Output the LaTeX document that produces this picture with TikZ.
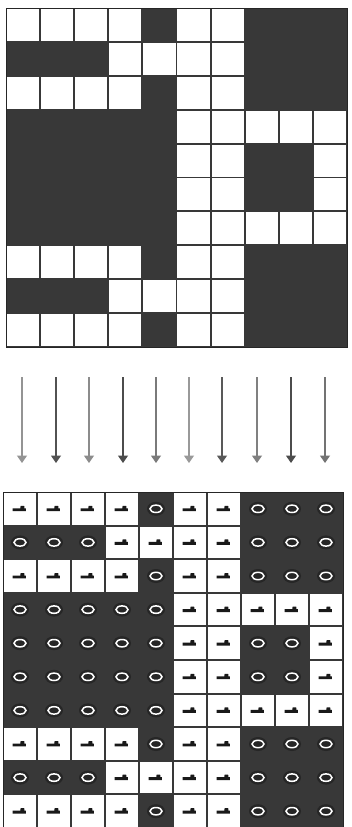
\documentclass[tikz,border=0pt]{standalone}
\usetikzlibrary{arrows.meta}
\definecolor{cellgray}{HTML}{383838}
\definecolor{halo}{HTML}{262626}
\begin{document}
\begin{tikzpicture}[x=1pt,y=-1pt,
  gridbg/.style={fill=cellgray,draw=black!85,line width=1pt},
  whitecell/.style={fill=white,draw=none,inner sep=0pt,minimum width=32.2pt,minimum height=32pt},
  whitecellb/.style={fill=white,draw=none,inner sep=0pt,minimum width=32.2pt,minimum height=31.6pt},
  darkcell/.style={draw=none,inner sep=0pt,minimum width=34pt,minimum height=33.5pt},
  arr/.style={line width=1.3pt,-{Triangle[width=10pt,length=7.5pt]}},
  boot/.pic={\fill[black!90] (-7.5,-0.5) -- (0.3,-0.5) -- (0.6,-3) -- (4.2,-3) -- (4.5,-0.5) -- (5.8,-0.5) -- (5.8,2.4) -- (-7.5,2.4) -- cycle;},
  ring/.pic={\fill[halo] (0,0) ellipse [x radius=9pt, y radius=7pt];
             \draw[white,line width=1.5pt] (0,0) ellipse [x radius=6pt, y radius=3.7pt];}
]
\useasboundingbox (0,0) rectangle (352,827);
\fill[white] (0,0) rectangle (352,827);
% top grid
\draw[gridbg] (6,8) rectangle (347,347);
\foreach \r/\row in {0/{1,1,1,1,0,1,1,0,0,0},1/{0,0,0,1,1,1,1,0,0,0},2/{1,1,1,1,0,1,1,0,0,0},3/{0,0,0,0,0,1,1,1,1,1},4/{0,0,0,0,0,1,1,0,0,1},5/{0,0,0,0,0,1,1,0,0,1},6/{0,0,0,0,0,1,1,1,1,1},7/{1,1,1,1,0,1,1,0,0,0},8/{0,0,0,1,1,1,1,0,0,0},9/{1,1,1,1,0,1,1,0,0,0}}{
  \foreach \v [count=\c from 0] in \row {
    \ifnum\v=1
      \node[whitecell] (t-\r-\c) at ({6+34.1*(\c+0.5)},{8+33.9*(\r+0.5)}) {};
    \else
      \node[darkcell] (t-\r-\c) at ({6+34.1*(\c+0.5)},{8+33.9*(\r+0.5)}) {};
    \fi
  }
}
% arrows
\foreach \x/\col [count=\i from 0] in {22/black!42,56/black!68,89/black!45,123/black!70,156/black!52,189/black!40,222/black!65,257/black!50,291/black!70,325/black!55}{
  \coordinate (a\i) at (\x,377);
  \coordinate (b\i) at (\x,463);
  \draw[arr,draw=\col,fill=\col] (a\i) -- (b\i);
}
% bottom grid
\draw[gridbg] (3,492) rectangle (343,830);
\foreach \r/\row in {0/{1,1,1,1,0,1,1,0,0,0},1/{0,0,0,1,1,1,1,0,0,0},2/{1,1,1,1,0,1,1,0,0,0},3/{0,0,0,0,0,1,1,1,1,1},4/{0,0,0,0,0,1,1,0,0,1},5/{0,0,0,0,0,1,1,0,0,1},6/{0,0,0,0,0,1,1,1,1,1},7/{1,1,1,1,0,1,1,0,0,0},8/{0,0,0,1,1,1,1,0,0,0},9/{1,1,1,1,0,1,1,0,0,0}}{
  \foreach \v [count=\c from 0] in \row {
    \ifnum\v=1
      \node[whitecellb] (b-\r-\c) at ({3+34*(\c+0.5)},{492+33.6*(\r+0.5)}) {};
      \pic at (b-\r-\c) {boot};
    \else
      \node[darkcell] (b-\r-\c) at ({3+34*(\c+0.5)},{492+33.6*(\r+0.5)}) {};
      \pic at (b-\r-\c) {ring};
    \fi
  }
}
\end{tikzpicture}
\end{document}
